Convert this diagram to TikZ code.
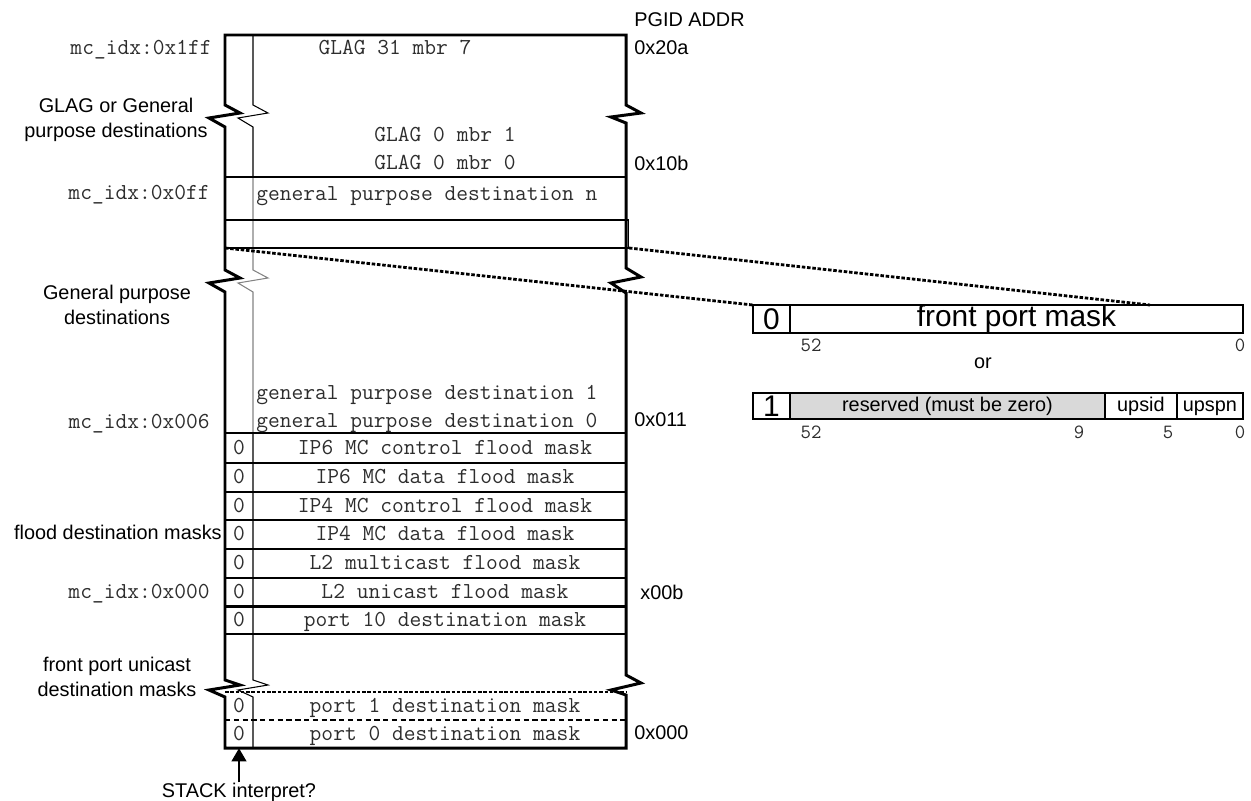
\documentclass[tikz,border=0pt]{standalone}
\usepackage{fontspec}
\setmainfont{Liberation Sans}
\usetikzlibrary{arrows.meta,calc}
\definecolor{pgink}{RGB}{0,0,0}
\definecolor{pgtext}{RGB}{45,45,45}
\definecolor{pgres}{RGB}{217,217,217}
\definecolor{pggrid}{RGB}{130,130,130}

\begin{document}
\begin{tikzpicture}[x=0.02cm, y=-0.02cm,
  font=\fontsize{11.3}{14}\selectfont,
  wall/.style={pgink, line width=1.7pt, line join=miter},
  rowsep/.style={pgink, line width=0.6pt},
  mono/.style={font=\ttfamily\fontsize{13}{15}\selectfont, text=pgtext, inner sep=0pt,
    text height=8pt, text depth=1pt},
  bitno/.style={font=\ttfamily\fontsize{11.5}{13}\selectfont, text=pgtext, inner sep=0pt,
    text height=7pt, text depth=0pt},
  side/.style={align=center, inner sep=0pt},
  flag/.style={mono, minimum width=0.5cm, minimum height=0.56cm},
  cell/.style={draw=pgink, line width=0.8pt, inner sep=0pt, outer sep=0pt,
    anchor=west, minimum height=0.56cm, text height=8.2pt, text depth=2.4pt},
  big/.style={font=\fontsize{17}{20}\selectfont, text height=12.2pt, text depth=3.4pt},
  bigdig/.style={big, text depth=0pt},
  zoomln/.style={line width=1.6pt, dash pattern=on 2pt off 1pt},
  arr/.style={-{Triangle[length=2.6mm,width=3mm]}, line width=0.6pt}
]
\useasboundingbox (0,0) rectangle (1251,801);

% outline of the table, with its three breaks
\draw[wall] (225,748) -- (225,697) -- (209,690) -- (240,685) -- (225,680)
  -- (225,292) -- (209,283) -- (240,278) -- (225,270)
  -- (225,127) -- (209,118) -- (240,113) -- (225,105)
  -- (225,35) -- (626,35) -- (626,105) -- (641,113) -- (611,117) -- (626,123)
  -- (626,268) -- (641,277) -- (611,283) -- (626,293)
  -- (626,675) -- (641,683) -- (611,690) -- (626,695) -- (626,748) -- cycle;

% STACK column
\draw[rowsep] (253,35) -- (253,105) -- (268,113) -- (238,118) -- (253,127) -- (253,177);
\draw[rowsep, pggrid] (253,177) -- (253,270) -- (268,278) -- (238,283) -- (253,292) -- (253,433);
\draw[rowsep] (253,433) -- (253,680) -- (268,685) -- (238,690) -- (253,697) -- (253,748);

% row boundaries
\draw[wall] (225,177) -- (626,177);
\draw[wall] (225,433) -- (626,433);
\draw[rowsep] (225,463) -- (626,463);
\draw[rowsep] (225,492) -- (626,492);
\draw[rowsep] (225,520) -- (626,520);
\draw[rowsep] (225,549) -- (626,549);
\draw[rowsep] (225,578) -- (626,578);
\draw[wall] (225,606) -- (626,606);
\draw[pgink, line width=1.1pt] (225,634) -- (626,634);
\draw[zoomln] (225,692) -- (626,692);
\draw[rowsep, densely dashed] (225,720) -- (626,720);

% selected entry
\node[draw=pgink, line width=0.6pt, inner sep=0pt, outer sep=0pt, anchor=north west,
  minimum width=8.08cm, minimum height=0.56cm] (sel) at (225,220) {};

% GLAG rows
\node[mono] (g317) at (395,48) {GLAG 31 mbr 7};
\node[mono] (g01) at (445,135) {GLAG 0 mbr 1};
\node[mono] (g00) at (445,163) {GLAG 0 mbr 0};

% general purpose rows
\node[mono, anchor=west] (gpn) at (256,194) {general purpose destination n};
\node[mono, anchor=west] (gp1) at (256,393) {general purpose destination 1};
\node[mono, anchor=west] (gp0) at (256,421) {general purpose destination 0};

% flood rows
\node[flag] (ip6cf) at (239,448) {0};
\node[mono] (ip6c) at (445,448) {IP6 MC control flood mask};
\node[flag] (ip6df) at (239,477) {0};
\node[mono] (ip6d) at (445,477) {IP6 MC data flood mask};
\node[flag] (ip4cf) at (239,506) {0};
\node[mono] (ip4c) at (445,506) {IP4 MC control flood mask};
\node[flag] (ip4df) at (239,534) {0};
\node[mono] (ip4d) at (445,534) {IP4 MC data flood mask};
\node[flag] (l2mf) at (239,563) {0};
\node[mono] (l2m) at (445,563) {L2 multicast flood mask};
\node[flag] (l2uf) at (239,592) {0};
\node[mono] (l2u) at (445,592) {L2 unicast flood mask};

% port rows
\node[flag] (p10f) at (239,620) {0};
\node[mono] (p10) at (445,620) {port 10 destination mask};
\node[flag] (p1f) at (239,706) {0};
\node[mono] (p1) at (445,706) {port 1 destination mask};
\node[flag] (p0f) at (239,734) {0};
\node[mono] (p0) at (445,734) {port 0 destination mask};

% left side
\node[mono, anchor=east] (idx1ff) at (212,48) {mc\_idx:0x1ff};
\node[mono, anchor=east] (idx0ff) at (210,193) {mc\_idx:0x0ff};
\node[mono, anchor=east] (idx006) at (210,422) {mc\_idx:0x006};
\node[mono, anchor=east] (idx000) at (210,592) {mc\_idx:0x000};
\node[side] (glagl) at (116,120) {GLAG or General\\purpose destinations};
\node[side] (gpl) at (117,305) {General purpose\\destinations};
\node[side, anchor=east] (floodl) at (222,532) {flood destination masks};
\node[side] (fpul) at (117,677) {front port unicast\\destination masks};

% right side
\node[side, anchor=west] (pgid) at (634,20) {PGID ADDR};
\node[side, anchor=west] (a20a) at (634,48) {0x20a};
\node[side, anchor=west] (a10b) at (634,163) {0x10b};
\node[side, anchor=west] (a011) at (634,420) {0x011};
\node[side, anchor=west] (a00b) at (640,592) {x00b};
\node[side, anchor=west] (a000) at (634,733) {0x000};

% STACK marker
\node[side] (stack) at (239,792) {STACK interpret?};
\draw[arr] (stack.north) -- (p0f.south);

% entry formats
\node[cell, bigdig, minimum width=0.74cm] (fp0) at (753,319) {0};
\node[cell, big, minimum width=9.06cm] (fpm) at (fp0.east) {front port mask};
\node[bitno] (fp52) at (811,345) {52};
\node[bitno] (fpz) at (1240,345) {0};
\node[side] (or) at (983,363) {or};

\node[cell, bigdig, minimum width=0.74cm, minimum height=0.52cm] (sp1) at (753,406) {1};
\node[cell, fill=pgres, minimum width=6.3cm, minimum height=0.52cm] (res) at (sp1.east) {reserved (must be zero)};
\node[cell, minimum width=1.44cm, minimum height=0.52cm] (upsid) at (res.east) {upsid};
\node[cell, minimum width=1.32cm, minimum height=0.52cm] (upspn) at (upsid.east) {upspn};
\node[bitno] (sp52) at (811,432) {52};
\node[bitno] (sp9) at (1079,432) {9};
\node[bitno] (sp5) at (1168,432) {5};
\node[bitno] (spz) at (1240,432) {0};

% zoom lines
\coordinate (zoomr) at (1150,305);
\draw[zoomln] (sel.south west) -- (fp0.north west);
\draw[zoomln] (sel.south east) -- (zoomr);
\end{tikzpicture}
\end{document}
